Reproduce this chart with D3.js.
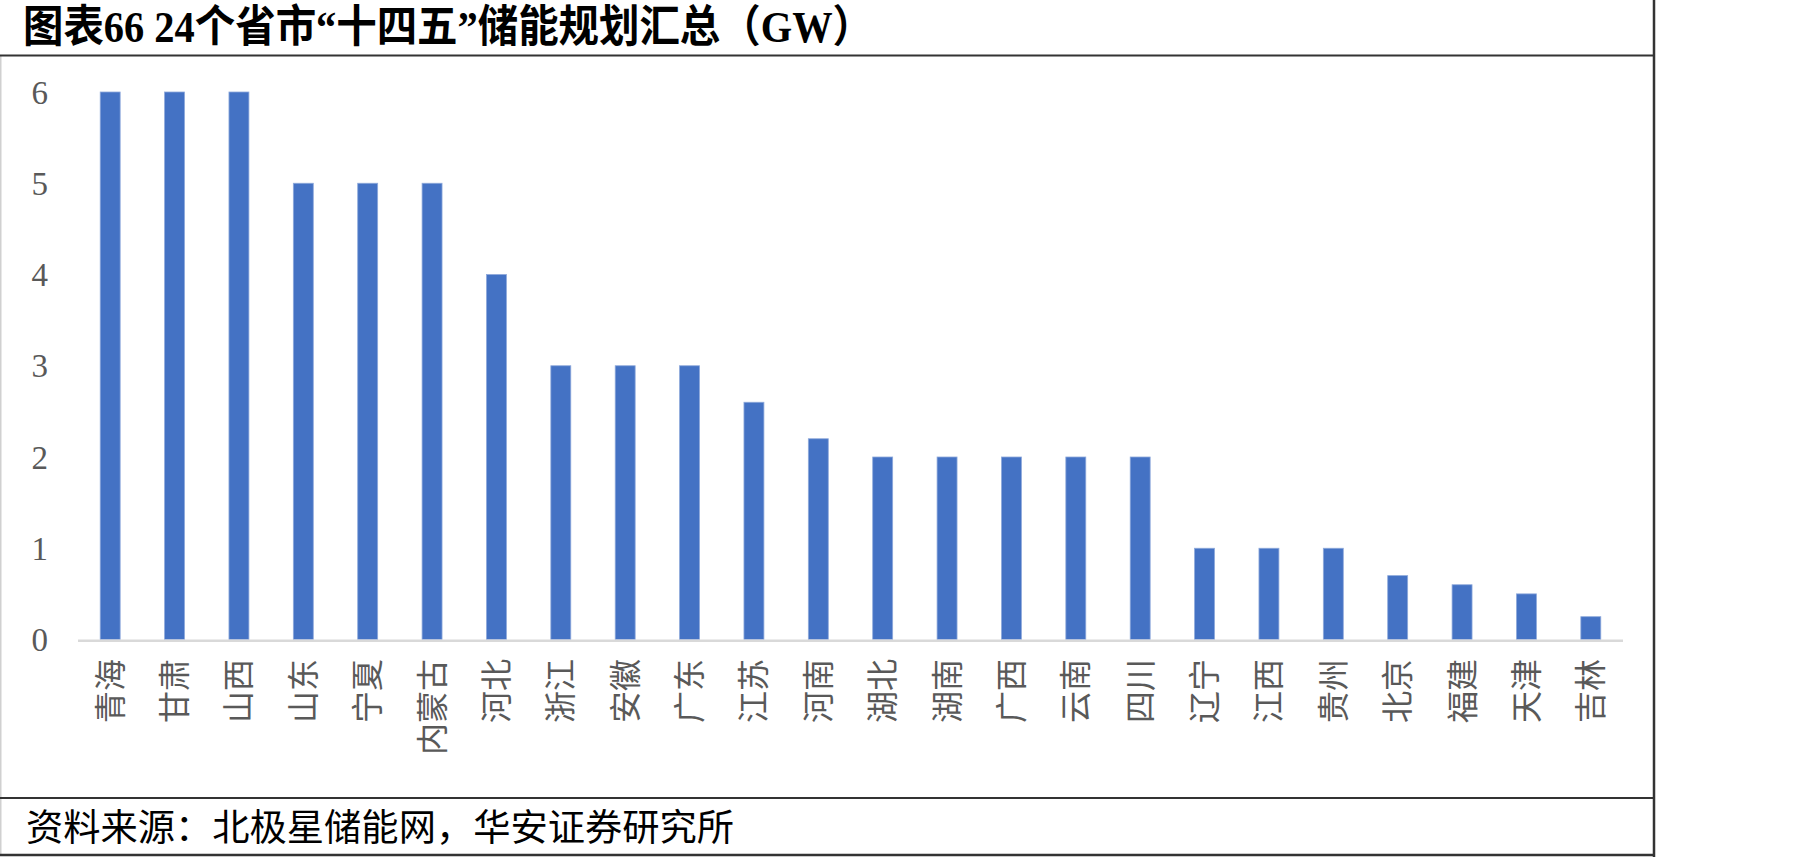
<!DOCTYPE html>
<html>
<head>
<meta charset="utf-8">
<script src="https://cdn.jsdelivr.net/npm/d3@7"></script>
<style>
  html, body { margin: 0; padding: 0; background: #fff; }
  svg { display: block; }
</style>
</head>
<body>
<svg id="chart" width="1810" height="858"></svg>
<script>
const categories = ["青海","甘肃","山西","山东","宁夏","内蒙古","河北","浙江","安徽","广东","江苏","河南","湖北","湖南","广西","云南","四川","辽宁","江西","贵州","北京","福建","天津","吉林"];
const values = [6,6,6,5,5,5,4,3,3,3,2.6,2.2,2,2,2,2,2,1,1,1,0.7,0.6,0.5,0.25];
const yTicks = [0,1,2,3,4,5,6];
const titleText = "图表66 24个省市“十四五”储能规划汇总（GW）";
const sourceText = "资料来源：北极星储能网，华安证券研究所";

const svg = d3.select("#chart");

// frame
svg.append("line").attr("x1",0.75).attr("x2",0.75).attr("y1",56).attr("y2",856)
  .attr("stroke","#d0d0d0").attr("stroke-width",1.5);
svg.append("line").attr("x1",0).attr("x2",1655).attr("y1",55.5).attr("y2",55.5)
  .attr("stroke","#333").attr("stroke-width",2);
svg.append("line").attr("x1",0).attr("x2",1655).attr("y1",798).attr("y2",798)
  .attr("stroke","#333").attr("stroke-width",2);
svg.append("line").attr("x1",0).attr("x2",1655).attr("y1",855).attr("y2",855)
  .attr("stroke","#333").attr("stroke-width",2.5);
svg.append("line").attr("x1",1654).attr("x2",1654).attr("y1",0).attr("y2",857)
  .attr("stroke","#333").attr("stroke-width",2.5);

// title
svg.append("text").attr("x",23).attr("y",42)
  .attr("font-family","'Liberation Serif','Noto Sans CJK SC',serif")
  .attr("font-weight","bold").attr("font-size",44).attr("fill","#000")
  .attr("textLength",850).attr("lengthAdjust","spacingAndGlyphs")
  .text(titleText);

// source
svg.append("text").attr("x",26).attr("y",841)
  .attr("font-family","'Noto Sans CJK SC',sans-serif")
  .attr("font-size",37).attr("fill","#000")
  .attr("textLength",708).attr("lengthAdjust","spacingAndGlyphs")
  .text(sourceText);

// scales
const x = d3.scaleBand().domain(categories).range([78, 1623]).paddingInner(0.69).paddingOuter(0.345);
const y = d3.scaleLinear().domain([0, 6]).range([639.5, 92]);

// y axis labels
const yAxis = d3.axisLeft(y).tickValues(yTicks).tickSize(0).tickPadding(0).tickFormat(d3.format("d"));
const gy = svg.append("g").attr("transform","translate(48,0)").call(yAxis);
gy.select(".domain").remove();
gy.selectAll("text").attr("font-family","'Liberation Serif',serif").attr("font-size",33)
  .attr("fill","#595959").attr("dy","0.34em");

// bars
svg.append("g").selectAll("rect").data(values).join("rect")
  .attr("x",(d,i)=>x(categories[i]))
  .attr("width",x.bandwidth())
  .attr("y",d=>y(d))
  .attr("height",d=>y(0)-y(d))
  .attr("fill","#4472C4")
  .attr("stroke","#8EA9DB").attr("stroke-width",0.8);

// baseline
svg.append("line").attr("x1",78).attr("x2",1623).attr("y1",y(0)+1.3).attr("y2",y(0)+1.3)
  .attr("stroke","#d9d9d9").attr("stroke-width",2.6);

// x axis labels (rotated)
const xAxis = d3.axisBottom(x).tickSize(0).tickPadding(0);
const gx = svg.append("g").attr("transform","translate(0,659)").call(xAxis);
gx.select(".domain").remove();
gx.selectAll("text")
  .attr("font-family","'Noto Sans CJK SC',sans-serif").attr("font-size",32)
  .attr("fill","#595959")
  .attr("text-anchor","end")
  .attr("transform","rotate(-90)")
  .attr("x",0).attr("y",0).attr("dy","0.36em");
</script>
</body>
</html>
